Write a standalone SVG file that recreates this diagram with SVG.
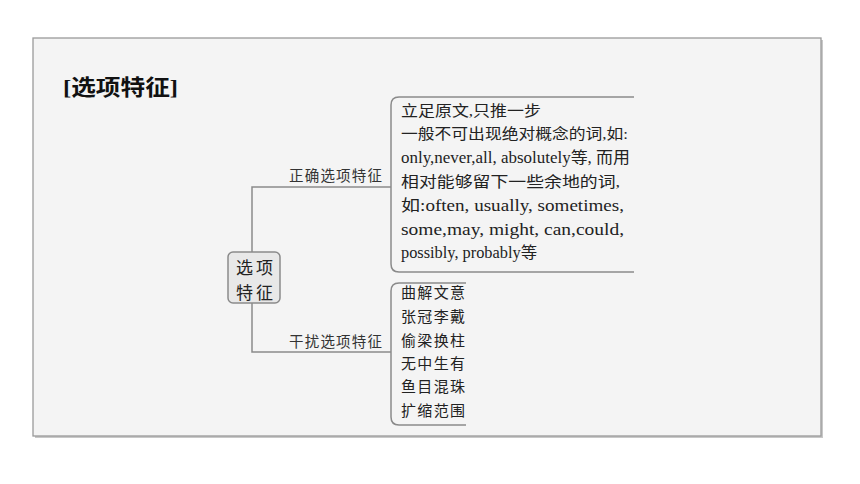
<svg xmlns="http://www.w3.org/2000/svg" width="860" height="484" viewBox="0 0 860 484">
<style>
.frame{fill:#f4f4f4;stroke:#9a9a9a;stroke-width:1.3}
.line{fill:none;stroke:#8a8a8a;stroke-width:1.5}
.node{fill:#e8e8e8;stroke:#8a8a8a;stroke-width:1.5}
.t{font-family:"Liberation Serif","Noto Sans CJK SC",serif;font-size:15px;fill:#222}
.e{font-size:16px}
.lab{font-family:"Noto Sans CJK SC",sans-serif;font-size:14.5px;fill:#333}
.ctr{font-family:"Noto Sans CJK SC",sans-serif;font-size:17px;fill:#222}
.title{font-family:"Liberation Serif","Noto Sans CJK SC",serif;font-size:22px;font-weight:bold;fill:#111}
</style>
<rect x="0" y="0" width="860" height="484" fill="#ffffff"/>
<rect x="35" y="40" width="788" height="398" fill="#c8c8c8"/>
<rect class="frame" x="33" y="38" width="788" height="398"/>
<text class="title" x="63" y="95" textLength="115" lengthAdjust="spacingAndGlyphs">[选项特征]</text>
<g id="connectors">
<path class="line" d="M252,252 V187 H391"/>
<path class="line" d="M252,303 V352 H391"/>
<text class="lab" x="289" y="181" textLength="93">正确选项特征</text>
<text class="lab" x="289" y="347" textLength="93">干扰选项特征</text>
</g>
<g id="center">
<rect class="node" x="228" y="252" width="52" height="51" rx="5"/>
<text class="ctr" x="236" y="274" textLength="37">选项</text>
<text class="ctr" x="236" y="298.8" textLength="37">特征</text>
</g>
<g id="correct">
<path class="line" d="M634,97 H399 Q391,97 391,105 V264 Q391,272 399,272 H634"/>
<text class="t" x="401" y="116" textLength="140" lengthAdjust="spacingAndGlyphs">立足原文,只推一步</text>
<text class="t" x="401" y="139" textLength="227" lengthAdjust="spacingAndGlyphs">一般不可出现绝对概念的词,如:</text>
<text class="t e" x="401" y="163" textLength="229" lengthAdjust="spacingAndGlyphs">only,never,all, absolutely等, 而用</text>
<text class="t" x="401" y="187" textLength="219" lengthAdjust="spacingAndGlyphs">相对能够留下一些余地的词,</text>
<text class="t e" x="401" y="211" textLength="223" lengthAdjust="spacingAndGlyphs">如:often, usually, sometimes,</text>
<text class="t e" x="401" y="235" textLength="223" lengthAdjust="spacingAndGlyphs">some,may, might, can,could,</text>
<text class="t e" x="401" y="258" textLength="136" lengthAdjust="spacingAndGlyphs">possibly, probably等</text>
</g>
<g id="distract">
<path class="line" d="M466,283 H399 Q391,283 391,291 V417 Q391,425 399,425 H466"/>
<text class="t" x="401" y="298" textLength="64">曲解文意</text>
<text class="t" x="401" y="322" textLength="64">张冠李戴</text>
<text class="t" x="401" y="346" textLength="64">偷梁换柱</text>
<text class="t" x="401" y="369" textLength="64">无中生有</text>
<text class="t" x="401" y="392" textLength="64">鱼目混珠</text>
<text class="t" x="401" y="416" textLength="64">扩缩范围</text>
</g>
</svg>
